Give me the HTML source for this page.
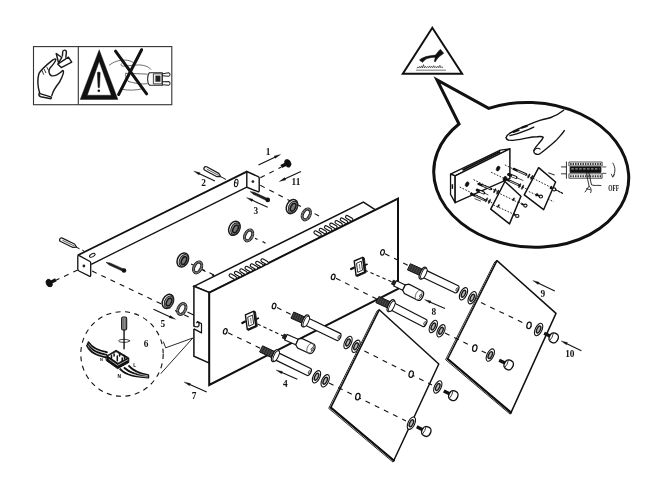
<!DOCTYPE html>
<html><head><meta charset="utf-8"><title>Assembly diagram</title>
<style>html,body{margin:0;padding:0;background:#fff}svg{display:block;filter:grayscale(1)}</style></head>
<body><svg width="662" height="488" viewBox="0 0 662 488">
<rect width="662" height="488" fill="#fff"/>
<rect x="33.5" y="46.6" width="138.3" height="58.1" fill="none" stroke="#333" stroke-width="1.1"/>
<line x1="78.3" y1="46.5" x2="78.3" y2="104.7" stroke="#333" stroke-width="1.1" stroke-linecap="butt"/>
<g transform="translate(30,40) scale(0.14337)" fill="none" stroke="#1a1a1a" stroke-width="10" stroke-linejoin="round" stroke-linecap="round">
<path d="M68 372 C55 330 52 270 62 235 C75 210 120 170 155 142 C165 134 178 130 180 136 C178 150 165 168 140 195 C128 215 128 235 150 250 C175 252 205 235 228 212 C240 215 232 245 205 295 C185 320 160 355 152 388"/>
<path d="M64 372 L150 398 L146 410 L75 396 C62 392 60 382 64 372 Z" fill="#fff"/>
<path d="M183 94 L199 160 L222 122 Z" fill="#fff"/>
<path d="M226 112 L228 84 C229 66 254 66 254 86 L250 120" fill="#fff"/>
<path d="M193 168 L268 120 L291 154 L218 192 Z" fill="#fff"/>
<path d="M85 215 L95 240 M100 205 L110 228 M118 190 L128 210" stroke-width="6"/>
</g>
<path d="M99.2 49.7 L117.9 99.5 L80.2 99.5 Z M99.2 61.5 L111.2 95.2 L87.3 95.2 Z" fill="#111" fill-rule="evenodd" stroke="#111" stroke-width="0.4"/>
<path d="M97.4 72.6 Q98.8 71.2 100.2 72.6 L99.5 87.6 L98.1 87.6 Z" fill="#111" stroke="#111" stroke-width="0.5"/>
<circle cx="98.8" cy="90.8" r="1.3" fill="#111"/>
<g transform="translate(100,40) scale(0.14337)" fill="none" stroke="#555" stroke-width="6" stroke-linejoin="round" stroke-linecap="round">
<path d="M65 175 C100 150 130 140 175 140 C200 140 225 150 235 160"/>
<path d="M150 165 C140 175 150 185 170 182 L250 175 C300 170 340 185 355 205"/>
<path d="M178 232 L330 238 M200 290 C240 300 280 312 330 305"/>
<path d="M160 345 C200 352 250 352 295 340"/>
<path d="M180 235 C170 250 185 275 200 290"/>
<path d="M345 228 L435 228 L435 315 L345 315 C328 300 328 245 345 228 Z" stroke="#222" stroke-width="7" fill="#fff"/>
<rect x="375" y="236" width="57" height="70" stroke="#222" stroke-width="6" fill="#fff"/>
<rect x="388" y="250" width="32" height="40" fill="#222" stroke="#222" stroke-width="3"/>
<path d="M437 236 L478 229 C492 230 492 252 478 253 L437 250 M437 291 L478 290 C492 292 492 314 478 315 L437 312" stroke="#222" stroke-width="7"/>
</g>
<line x1="115.5" y1="51.2" x2="146.6" y2="93.8" stroke="#111" stroke-width="3.0" stroke-linecap="round"/>
<line x1="141.6" y1="49.7" x2="118.6" y2="94.5" stroke="#111" stroke-width="3.0" stroke-linecap="round"/>
<polygon points="432.3,27.8 462.1,73.7 402.8,73.7" fill="none" stroke="#111" stroke-width="2.0" stroke-linejoin="miter"/>
<g transform="translate(410,40) scale(0.07375)">
<path d="M130 268 L160 248 L215 225 L290 210 L345 205 L380 160 L412 125 L458 180 L400 225 L365 260 L345 295 L328 290 L340 245 L330 235 L280 240 L225 255 L185 285 L170 305 L155 290 L140 285 Z" fill="#111" stroke="#111" stroke-width="6" stroke-linejoin="round"/>
<path d="M95 385 l12 -20 l12 14 l12 -22 l12 22 l14 -28 l12 28 l14 -45 l12 45 l14 -22 l14 20 l14 -18 l14 18 l14 -26 l14 26 l14 -22 l14 22 l14 -30 l14 30 l14 -18 l14 18 l14 -22 l14 22 l14 -34 l14 34 l14 -16 l12 18" fill="none" stroke="#222" stroke-width="9" stroke-linejoin="round"/>
<path d="M85 409 L490 409" stroke="#111" stroke-width="10" stroke-dasharray="22 5"/>
</g>
<path d="M459 124 L437 80 L488.7 108.4 A97.6 72.3 3.93 1 1 459 124 Z" fill="#fff" stroke="#111" stroke-width="3.0" stroke-linejoin="miter"/>
<g transform="translate(495,100) scale(0.13594)" fill="none" stroke="#111" stroke-width="10" stroke-linejoin="round" stroke-linecap="round">
<path d="M82 276 C85 258 110 242 130 232 C150 222 170 210 190 205 C200 195 225 190 240 185 C270 172 300 160 330 150 C370 140 400 132 420 125 C445 115 480 95 505 75"/>
<path d="M110 262 C140 255 175 245 200 235 C230 225 262 212 285 200"/>
<path d="M82 278 C84 290 95 296 115 297 C150 297 200 286 230 280 C260 274 290 270 310 270 C330 268 348 268 355 274 C350 290 335 305 318 325 C300 345 288 358 285 375 C285 395 305 405 325 398 C340 390 370 365 400 340 C430 315 450 298 465 280 C485 258 498 245 510 225"/>
<path d="M288 372 C292 355 318 350 332 362" stroke-width="8"/>
<path d="M135 236 L175 222 M195 205 L235 192" stroke-width="14"/>
</g>
<g transform="translate(445,140) scale(0.18433)" fill="none" stroke="#111" stroke-width="7" stroke-linejoin="round">
<path d="M30 185 L300 55 L352 48 L55 195 Z" fill="#fff"/>
<path d="M30 185 L55 195 L55 340 L30 295 Z" fill="#fff"/>
<path d="M55 195 L352 48 L352 208 L55 340 Z" fill="#fff" stroke-width="8"/>
<path d="M95 163 L300 63" stroke-width="11"/>
<path d="M40 240 L40 265" stroke-width="8"/>
<g stroke-width="5" stroke-dasharray="9 8">
<path d="M325 135 L640 290 M250 175 L590 335 M155 215 L440 355 M80 255 L400 412"/>
</g>
<g stroke-width="13" stroke-linecap="round">
<path d="M372 157 L440 187 M330 212 L400 244 M182 238 L250 266 M142 292 L212 324"/>
</g>
<g stroke-width="4" stroke-linecap="round" stroke="#fff">
<path d="M395 168 L436 186 M352 223 L396 243 M205 248 L246 265 M165 303 L208 323"/>
</g>
<g stroke-width="16" stroke-linecap="round">
<path d="M345 187 L385 203 M175 272 L210 287"/>
</g>
<g stroke-width="7" stroke-linecap="round" stroke="#fff">
<path d="M365 196 L383 203 M192 280 L208 287"/>
</g>
<path d="M385 203 L425 220 M210 287 L235 298 M160 318 L195 332" stroke-width="4"/>
<ellipse cx="288" cy="155" rx="9" ry="14" fill="#111" stroke-width="3" transform="rotate(26 288 155)"/>
<ellipse cx="120" cy="240" rx="9" ry="14" fill="#111" stroke-width="3" transform="rotate(26 120 240)"/>
<ellipse cx="325" cy="210" rx="9" ry="14" fill="#111" stroke-width="3" transform="rotate(26 325 210)"/>
<ellipse cx="455" cy="195" rx="4" ry="13" fill="#111" stroke-width="2" transform="rotate(26 455 195)"/>
<ellipse cx="471" cy="203" rx="4" ry="13" fill="#111" stroke-width="2" transform="rotate(26 471 203)"/>
<ellipse cx="405" cy="248" rx="4" ry="13" fill="#111" stroke-width="2" transform="rotate(26 405 248)"/>
<ellipse cx="421" cy="256" rx="4" ry="13" fill="#111" stroke-width="2" transform="rotate(26 421 256)"/>
<ellipse cx="270" cy="275" rx="4" ry="13" fill="#111" stroke-width="2" transform="rotate(26 270 275)"/>
<ellipse cx="286" cy="283" rx="4" ry="13" fill="#111" stroke-width="2" transform="rotate(26 286 283)"/>
<ellipse cx="225" cy="325" rx="4" ry="13" fill="#111" stroke-width="2" transform="rotate(26 225 325)"/>
<ellipse cx="241" cy="333" rx="4" ry="13" fill="#111" stroke-width="2" transform="rotate(26 241 333)"/>
<path d="M325 225 L412 305 L350 455 L248 375 Z" fill="#fff" stroke-width="8"/>
<path d="M508 150 L600 228 L535 378 L430 298 Z" fill="#fff" stroke-width="8"/>
<g stroke-width="5" stroke-dasharray="9 8">
<path d="M300 292 L410 345 M262 352 L385 408 M478 208 L640 290 M455 280 L520 308"/>
</g>
<ellipse cx="436" cy="356" rx="9" ry="8" fill="#fff" stroke-width="6"/>
<path d="M414 346 L427 352" stroke-width="10"/>
<ellipse cx="392" cy="412" rx="9" ry="8" fill="#fff" stroke-width="6"/>
<path d="M370 402 L383 408" stroke-width="10"/>
<ellipse cx="520" cy="307" rx="9" ry="8" fill="#fff" stroke-width="6"/>
<path d="M498 297 L511 303" stroke-width="10"/>
<ellipse cx="592" cy="268" rx="9" ry="8" fill="#fff" stroke-width="6"/>
<path d="M570 258 L583 264" stroke-width="10"/>
<ellipse cx="372" cy="322" rx="4" ry="9" fill="#111" stroke-width="2" transform="rotate(26 372 322)"/>
<ellipse cx="290" cy="358" rx="4" ry="9" fill="#111" stroke-width="2" transform="rotate(26 290 358)"/>
<ellipse cx="497" cy="297" rx="4" ry="9" fill="#111" stroke-width="2" transform="rotate(26 497 297)"/>
<ellipse cx="575" cy="258" rx="4" ry="9" fill="#111" stroke-width="2" transform="rotate(26 575 258)"/>
<path d="M560 178 L595 190 M600 270 L640 290" stroke-width="5"/>
</g>
<g transform="translate(500,100) scale(0.24606)" fill="none" stroke="#111" stroke-width="4" stroke-linejoin="round">
<path d="M270 250 L270 320 M248 272 L270 272 M248 300 L270 300" stroke-width="3.5"/>
<rect x="280" y="252" width="135" height="16" fill="#fff" stroke-width="3"/>
<path d="M285 260 L412 260" stroke-width="8" stroke-dasharray="6 4" stroke="#333"/>
<rect x="285" y="272" width="125" height="22" fill="#111"/>
<path d="M290 280 L405 280" stroke="#fff" stroke-width="3" stroke-dasharray="10 6"/>
<rect x="280" y="300" width="135" height="18" fill="#fff" stroke-width="3"/>
<path d="M285 310 L412 310" stroke-width="8" stroke-dasharray="6 4" stroke="#333"/>
<path d="M415 272 L432 272 M415 298 L432 298" stroke-width="3"/>
<path d="M458 255 C470 275 470 295 458 312" stroke-width="3.5"/>
<path d="M452 300 L458 314 L466 302" stroke-width="3"/>
<path d="M360 290 C365 310 368 330 372 345 C385 350 400 345 412 348" stroke-width="3.5" fill="none"/>
<path d="M352 292 C352 315 360 335 362 350 L345 375 M362 350 C372 358 372 368 368 378 M350 360 L368 365" stroke-width="3.5"/>
</g>
<text x="608.2" y="190.8" font-family="'Liberation Serif', serif" font-size="7.6" font-weight="bold" textLength="10.9" lengthAdjust="spacingAndGlyphs" fill="#111">OFF</text>
<line x1="260.3" y1="177.8" x2="281" y2="167.2" stroke="#111" stroke-width="1.1" stroke-dasharray="5 5.2" stroke-linecap="butt"/>
<line x1="260.3" y1="185.3" x2="322" y2="217.5" stroke="#111" stroke-width="1.1" stroke-dasharray="5 5.2" stroke-linecap="butt"/>
<line x1="77.8" y1="269.9" x2="56" y2="280.2" stroke="#111" stroke-width="1.1" stroke-dasharray="5 5.2" stroke-linecap="butt"/>
<line x1="92.1" y1="271" x2="196" y2="320.5" stroke="#111" stroke-width="1.1" stroke-dasharray="5 5.2" stroke-linecap="butt"/>
<line x1="181.9" y1="259.5" x2="216" y2="276" stroke="#111" stroke-width="1.1" stroke-dasharray="5 5.2" stroke-linecap="butt"/>
<line x1="76" y1="247" x2="84" y2="251" stroke="#111" stroke-width="1.0" stroke-dasharray="4 3" stroke-linecap="butt"/>
<line x1="221" y1="176.8" x2="226" y2="179.5" stroke="#111" stroke-width="1.0" stroke-linecap="butt"/>
<line x1="77.8" y1="255.2" x2="246.8" y2="171.6" stroke="#111" stroke-width="1.8" stroke-linecap="butt"/>
<line x1="91.2" y1="264.3" x2="246.8" y2="187.2" stroke="#111" stroke-width="1.3" stroke-linecap="butt"/>
<path d="M246.8 171.5 L258.2 176.6 Q259.2 177 259.2 178.2 L259.2 190.6 Q259.2 192.2 257.8 191.6 L246.8 187.2 Z" fill="#fff" stroke="#111" stroke-width="1.4" />
<circle cx="252.9" cy="181.6" r="1.4" fill="#222"/>
<path d="M77.8 256.5 Q77.8 254.8 79.2 255.6 L89.6 261.2 Q90.7 261.8 90.7 263 L90.7 275.2 Q90.7 276.8 89.3 276.2 L79 271 Q77.8 270.5 77.8 269 Z" fill="#fff" stroke="#111" stroke-width="1.3" />
<circle cx="83.9" cy="266" r="1.4" fill="#222"/>
<ellipse cx="92.3" cy="255.3" rx="3" ry="1.5" transform="rotate(-27 92.3 255.3)" fill="#fff" stroke="#111" stroke-width="1.0"/>
<ellipse cx="236.2" cy="183" rx="1.7" ry="3.8" transform="rotate(8 236.2 183)" fill="#fff" stroke="#111" stroke-width="1.1"/>
<line x1="234.8" y1="182.6" x2="237.6" y2="183.2" stroke="#111" stroke-width="0.9" stroke-linecap="butt"/>
<path d="M60.67 241.51 L72.87 247.44 L76.58 247.12 L74.53 244.02 L62.33 238.09 A1.9 1.9 0 0 0 60.67 241.51 Z" fill="#fff" stroke="#1a1a1a" stroke-width="1.2" stroke-linejoin="round"/>
<line x1="62.4" y1="240.24" x2="74.6" y2="246.16" stroke="#333" stroke-width="0.8" stroke-linecap="butt"/>
<path d="M204.89 170.17 L216.94 176.71 L220.65 176.57 L218.75 173.38 L206.71 166.83 A1.9 1.9 0 0 0 204.89 170.17 Z" fill="#fff" stroke="#1a1a1a" stroke-width="1.2" stroke-linejoin="round"/>
<line x1="206.68" y1="168.98" x2="218.72" y2="175.52" stroke="#333" stroke-width="0.8" stroke-linecap="butt"/>
<path d="M250.2 191.6 L253.35 194.3 L267.29 200.99 L268.31 198.81 L254.29 192.31 Z" fill="#222" stroke="#111" stroke-width="0.5" />
<circle cx="267.8" cy="199.9" r="2.3" fill="#111"/>
<path d="M106 262.3 L109.18 264.96 L123.5 271.59 L124.5 269.41 L110.1 262.96 Z" fill="#222" stroke="#111" stroke-width="0.5" />
<circle cx="124" cy="270.5" r="2.3" fill="#111"/>
<line x1="287.15" y1="163.62" x2="281.13" y2="166.56" stroke="#111" stroke-width="3.4" stroke-linecap="butt"/>
<ellipse cx="287.6" cy="163.4" rx="2.5" ry="4.1" transform="rotate(-26 287.6 163.4)" fill="#111" stroke="#111" stroke-width="0.6"/>
<ellipse cx="288.5" cy="162.96" rx="2.2" ry="3.4" transform="rotate(-26 288.5 162.96)" fill="#111" stroke="#111" stroke-width="0.6"/>
<line x1="49.85" y1="282.78" x2="55.87" y2="279.84" stroke="#111" stroke-width="3.4" stroke-linecap="butt"/>
<ellipse cx="49.4" cy="283" rx="2.5" ry="4.1" transform="rotate(-26 49.4 283)" fill="#111" stroke="#111" stroke-width="0.6"/>
<ellipse cx="48.5" cy="283.44" rx="2.2" ry="3.4" transform="rotate(-26 48.5 283.44)" fill="#111" stroke="#111" stroke-width="0.6"/>
<ellipse cx="292" cy="206.6" rx="5.3" ry="7.4" transform="rotate(26 292 206.6)" fill="#fff" stroke="#1a1a1a" stroke-width="1.5"/>
<ellipse cx="292.9" cy="207.05" rx="4.1" ry="6.2" transform="rotate(26 292.9 207.05)" fill="#a8a8a8" stroke="#222" stroke-width="1.0"/>
<ellipse cx="293.1" cy="207.2" rx="2.3" ry="4.2" transform="rotate(26 293.1 207.2)" fill="#777" stroke="#151515" stroke-width="1.5"/>
<ellipse cx="306.3" cy="214.4" rx="4.6" ry="6.8" transform="rotate(26 306.3 214.4)" fill="#6a6a6a" stroke="#222" stroke-width="1.1"/>
<ellipse cx="306.3" cy="214.4" rx="4" ry="6.1" transform="rotate(26 306.3 214.4)" fill="none" stroke="#999" stroke-width="0.8" stroke-dasharray="1.6 1.4"/>
<ellipse cx="306.3" cy="214.4" rx="2.5" ry="4.6" transform="rotate(26 306.3 214.4)" fill="#fff" stroke="#222" stroke-width="0.9"/>
<ellipse cx="234.4" cy="228.3" rx="5.3" ry="7.4" transform="rotate(26 234.4 228.3)" fill="#fff" stroke="#1a1a1a" stroke-width="1.5"/>
<ellipse cx="235.3" cy="228.75" rx="4.1" ry="6.2" transform="rotate(26 235.3 228.75)" fill="#a8a8a8" stroke="#222" stroke-width="1.0"/>
<ellipse cx="235.5" cy="228.9" rx="2.3" ry="4.2" transform="rotate(26 235.5 228.9)" fill="#777" stroke="#151515" stroke-width="1.5"/>
<ellipse cx="248.6" cy="235.4" rx="4.6" ry="6.8" transform="rotate(26 248.6 235.4)" fill="#6a6a6a" stroke="#222" stroke-width="1.1"/>
<ellipse cx="248.6" cy="235.4" rx="4" ry="6.1" transform="rotate(26 248.6 235.4)" fill="none" stroke="#999" stroke-width="0.8" stroke-dasharray="1.6 1.4"/>
<ellipse cx="248.6" cy="235.4" rx="2.5" ry="4.6" transform="rotate(26 248.6 235.4)" fill="#fff" stroke="#222" stroke-width="0.9"/>
<ellipse cx="182.8" cy="260" rx="5.3" ry="7.4" transform="rotate(26 182.8 260)" fill="#fff" stroke="#1a1a1a" stroke-width="1.5"/>
<ellipse cx="183.7" cy="260.45" rx="4.1" ry="6.2" transform="rotate(26 183.7 260.45)" fill="#a8a8a8" stroke="#222" stroke-width="1.0"/>
<ellipse cx="183.9" cy="260.6" rx="2.3" ry="4.2" transform="rotate(26 183.9 260.6)" fill="#777" stroke="#151515" stroke-width="1.5"/>
<ellipse cx="197.6" cy="267.4" rx="4.6" ry="6.8" transform="rotate(26 197.6 267.4)" fill="#6a6a6a" stroke="#222" stroke-width="1.1"/>
<ellipse cx="197.6" cy="267.4" rx="4" ry="6.1" transform="rotate(26 197.6 267.4)" fill="none" stroke="#999" stroke-width="0.8" stroke-dasharray="1.6 1.4"/>
<ellipse cx="197.6" cy="267.4" rx="2.5" ry="4.6" transform="rotate(26 197.6 267.4)" fill="#fff" stroke="#222" stroke-width="0.9"/>
<ellipse cx="167.9" cy="301.4" rx="5.3" ry="7.4" transform="rotate(26 167.9 301.4)" fill="#fff" stroke="#1a1a1a" stroke-width="1.5"/>
<ellipse cx="168.8" cy="301.85" rx="4.1" ry="6.2" transform="rotate(26 168.8 301.85)" fill="#a8a8a8" stroke="#222" stroke-width="1.0"/>
<ellipse cx="169" cy="302" rx="2.3" ry="4.2" transform="rotate(26 169 302)" fill="#777" stroke="#151515" stroke-width="1.5"/>
<ellipse cx="181.8" cy="309" rx="4.6" ry="6.8" transform="rotate(26 181.8 309)" fill="#6a6a6a" stroke="#222" stroke-width="1.1"/>
<ellipse cx="181.8" cy="309" rx="4" ry="6.1" transform="rotate(26 181.8 309)" fill="none" stroke="#999" stroke-width="0.8" stroke-dasharray="1.6 1.4"/>
<ellipse cx="181.8" cy="309" rx="2.5" ry="4.6" transform="rotate(26 181.8 309)" fill="#fff" stroke="#222" stroke-width="0.9"/>
<line x1="187.4" y1="312" x2="193.6" y2="314.9" stroke="#111" stroke-width="1.1" stroke-linecap="butt"/>
<line x1="255" y1="238.3" x2="257.5" y2="239.5" stroke="#111" stroke-width="1.1" stroke-linecap="butt"/>
<line x1="262.5" y1="241.5" x2="265.5" y2="243.3" stroke="#111" stroke-width="1.1" stroke-linecap="butt"/>
<line x1="202.5" y1="270" x2="205.5" y2="271.5" stroke="#111" stroke-width="1.1" stroke-linecap="butt"/>
<line x1="212" y1="275" x2="214.5" y2="276.2" stroke="#111" stroke-width="1.1" stroke-linecap="butt"/>
<polygon points="193.9,286.3 363.4,202.1 375.5,209.9 209.4,292.6" fill="#fff" stroke="#111" stroke-width="1.5" stroke-linejoin="miter"/>
<polygon points="193.9,286.3 209.4,292.6 209.4,363.2 193.9,356.2" fill="#fff" stroke="#111" stroke-width="1.5" stroke-linejoin="miter"/>
<polygon points="209.2,292.6 398,198.5 398,289 209.2,385" fill="#fff" stroke="#111" stroke-width="2.0" stroke-linejoin="miter"/>
<rect x="192.8" y="326.6" width="2.2" height="2.2" fill="#fff"/>
<path d="M193.9 326.4 L197.6 327 L199 325.6 L199 323.4 L197.6 321.5 L196.4 323.2 M197.6 321.5 L201.5 323.7 L201.5 332.9 L193.9 328.9" fill="none" stroke="#111" stroke-width="1.2" stroke-linejoin="round"/>
<rect x="313.6" y="232.1" width="8" height="3" rx="1.5" transform="rotate(30 317.6 233.6)" fill="#fff" stroke="#111" stroke-width="1.1"/>
<rect x="318.87" y="229.53" width="8" height="3" rx="1.5" transform="rotate(30 322.87 231.03)" fill="#fff" stroke="#111" stroke-width="1.1"/>
<rect x="324.13" y="226.97" width="8" height="3" rx="1.5" transform="rotate(30 328.13 228.47)" fill="#fff" stroke="#111" stroke-width="1.1"/>
<rect x="329.4" y="224.4" width="8" height="3" rx="1.5" transform="rotate(30 333.4 225.9)" fill="#fff" stroke="#111" stroke-width="1.1"/>
<rect x="334.67" y="221.83" width="8" height="3" rx="1.5" transform="rotate(30 338.67 223.33)" fill="#fff" stroke="#111" stroke-width="1.1"/>
<rect x="339.93" y="219.27" width="8" height="3" rx="1.5" transform="rotate(30 343.93 220.77)" fill="#fff" stroke="#111" stroke-width="1.1"/>
<rect x="345.2" y="216.7" width="8" height="3" rx="1.5" transform="rotate(30 349.2 218.2)" fill="#fff" stroke="#111" stroke-width="1.1"/>
<rect x="228.8" y="275.1" width="8" height="3" rx="1.5" transform="rotate(30 232.8 276.6)" fill="#fff" stroke="#111" stroke-width="1.1"/>
<rect x="234.1" y="272.6" width="8" height="3" rx="1.5" transform="rotate(30 238.1 274.1)" fill="#fff" stroke="#111" stroke-width="1.1"/>
<rect x="239.4" y="270.1" width="8" height="3" rx="1.5" transform="rotate(30 243.4 271.6)" fill="#fff" stroke="#111" stroke-width="1.1"/>
<rect x="244.7" y="267.6" width="8" height="3" rx="1.5" transform="rotate(30 248.7 269.1)" fill="#fff" stroke="#111" stroke-width="1.1"/>
<rect x="250" y="265.1" width="8" height="3" rx="1.5" transform="rotate(30 254 266.6)" fill="#fff" stroke="#111" stroke-width="1.1"/>
<rect x="255.3" y="262.6" width="8" height="3" rx="1.5" transform="rotate(30 259.3 264.1)" fill="#fff" stroke="#111" stroke-width="1.1"/>
<rect x="260.6" y="260.1" width="8" height="3" rx="1.5" transform="rotate(30 264.6 261.6)" fill="#fff" stroke="#111" stroke-width="1.1"/>
<ellipse cx="382.5" cy="252.4" rx="1.8" ry="2.8" transform="rotate(14 382.5 252.4)" fill="#fff" stroke="#111" stroke-width="1.25"/>
<ellipse cx="333.2" cy="276.8" rx="1.8" ry="2.8" transform="rotate(14 333.2 276.8)" fill="#fff" stroke="#111" stroke-width="1.25"/>
<ellipse cx="274.1" cy="306" rx="1.8" ry="2.8" transform="rotate(14 274.1 306)" fill="#fff" stroke="#111" stroke-width="1.25"/>
<ellipse cx="225.3" cy="331.3" rx="1.8" ry="2.8" transform="rotate(14 225.3 331.3)" fill="#fff" stroke="#111" stroke-width="1.25"/>
<g transform="translate(358.5,266.5)">
<path d="M-4.3 -5.5 L4.2 -9.2 L6.1 5.6 L-2.4 9.2 Z" fill="#fff" stroke="#111" stroke-width="1.4" stroke-linejoin="round"/>
<path d="M4.2 -9.2 L5.8 -8.6 L7.6 6 L-1.2 10 L-2.4 9.2 L6.1 5.6 Z" fill="#222" stroke="#111" stroke-width="0.9" stroke-linejoin="round"/>
<path d="M7 -1.5 L8.6 -2.2" stroke="#111" stroke-width="1.6" stroke-linecap="round"/>
<path d="M-2 -3.2 L2.8 -5.3 L4 3.6 L-0.8 5.8 Z" fill="#fff" stroke="#111" stroke-width="0.9"/>
<path d="M0.8 -2.5 L1.6 3" stroke="#333" stroke-width="0.7"/>
<path d="M-7.4 2.6 L-4.6 1.2" stroke="#111" stroke-width="2.2" stroke-linecap="round"/>
</g>
<g transform="translate(249.7,320.4)">
<path d="M-4.3 -5.5 L4.2 -9.2 L6.1 5.6 L-2.4 9.2 Z" fill="#fff" stroke="#111" stroke-width="1.4" stroke-linejoin="round"/>
<path d="M4.2 -9.2 L5.8 -8.6 L7.6 6 L-1.2 10 L-2.4 9.2 L6.1 5.6 Z" fill="#222" stroke="#111" stroke-width="0.9" stroke-linejoin="round"/>
<path d="M7 -1.5 L8.6 -2.2" stroke="#111" stroke-width="1.6" stroke-linecap="round"/>
<path d="M-2 -3.2 L2.8 -5.3 L4 3.6 L-0.8 5.8 Z" fill="#fff" stroke="#111" stroke-width="0.9"/>
<path d="M0.8 -2.5 L1.6 3" stroke="#333" stroke-width="0.7"/>
<path d="M-7.4 2.6 L-4.6 1.2" stroke="#111" stroke-width="2.2" stroke-linecap="round"/>
</g>
<line x1="385" y1="253.8" x2="408" y2="265.3" stroke="#111" stroke-width="1.1" stroke-dasharray="5 5.2" stroke-linecap="butt"/>
<line x1="336" y1="278.2" x2="377" y2="299.2" stroke="#111" stroke-width="1.1" stroke-dasharray="5 5.2" stroke-linecap="butt"/>
<line x1="277" y1="307.5" x2="292" y2="315" stroke="#111" stroke-width="1.1" stroke-dasharray="5 5.2" stroke-linecap="butt"/>
<line x1="228" y1="332.8" x2="261" y2="348.6" stroke="#111" stroke-width="1.1" stroke-dasharray="5 5.2" stroke-linecap="butt"/>
<line x1="364.5" y1="270" x2="392.4" y2="282.1" stroke="#111" stroke-width="1.1" stroke-dasharray="3.5 3" stroke-linecap="butt"/>
<line x1="257.5" y1="324" x2="283.2" y2="336" stroke="#111" stroke-width="1.1" stroke-dasharray="3.5 3" stroke-linecap="butt"/>
<polygon points="290.95,318.17 303.55,323.87 306.45,317.73 293.85,312.03" fill="#444" stroke="#111" stroke-width="1.0" stroke-linejoin="round"/>
<line x1="293.05" y1="319.12" x2="295.95" y2="312.98" stroke="#111" stroke-width="0.6" stroke-linecap="butt"/>
<line x1="295.15" y1="320.07" x2="298.05" y2="313.93" stroke="#111" stroke-width="0.6" stroke-linecap="butt"/>
<line x1="297.25" y1="321.02" x2="300.15" y2="314.88" stroke="#111" stroke-width="0.6" stroke-linecap="butt"/>
<line x1="299.35" y1="321.97" x2="302.25" y2="315.83" stroke="#111" stroke-width="0.6" stroke-linecap="butt"/>
<line x1="301.45" y1="322.92" x2="304.35" y2="316.78" stroke="#111" stroke-width="0.6" stroke-linecap="butt"/>
<path d="M305.33 325.27 L336.94 340.43 A1.95 3.9 25.26 0 0 340.26 333.37 L308.65 318.21 Z" fill="#fff" stroke="#111" stroke-width="1.2" />
<ellipse cx="338.96" cy="337.07" rx="0.9" ry="1.8" transform="rotate(25.26 338.96 337.07)" fill="#ddd" stroke="#222" stroke-width="0.7"/>
<ellipse cx="305.27" cy="320.93" rx="2.6" ry="6.5" transform="rotate(25.26 305.27 320.93)" fill="#fff" stroke="#111" stroke-width="1.2"/>
<ellipse cx="306.27" cy="321.4" rx="2.2" ry="5.7" transform="rotate(25.26 306.27 321.4)" fill="#fff" stroke="#111" stroke-width="0.9"/>
<polygon points="259.62,351.96 273.42,358.46 276.38,352.34 262.58,345.84" fill="#444" stroke="#111" stroke-width="1.0" stroke-linejoin="round"/>
<line x1="261.92" y1="353.05" x2="264.88" y2="346.92" stroke="#111" stroke-width="0.6" stroke-linecap="butt"/>
<line x1="264.22" y1="354.13" x2="267.18" y2="348" stroke="#111" stroke-width="0.6" stroke-linecap="butt"/>
<line x1="266.52" y1="355.21" x2="269.48" y2="349.09" stroke="#111" stroke-width="0.6" stroke-linecap="butt"/>
<line x1="268.82" y1="356.3" x2="271.78" y2="350.17" stroke="#111" stroke-width="0.6" stroke-linecap="butt"/>
<line x1="271.12" y1="357.38" x2="274.08" y2="351.25" stroke="#111" stroke-width="0.6" stroke-linecap="butt"/>
<path d="M275.19 359.87 L307.31 375.51 A1.95 3.9 25.75 0 0 310.69 368.49 L278.58 352.84 Z" fill="#fff" stroke="#111" stroke-width="1.2" />
<ellipse cx="309.36" cy="372.17" rx="0.9" ry="1.8" transform="rotate(25.75 309.36 372.17)" fill="#ddd" stroke="#222" stroke-width="0.7"/>
<ellipse cx="275.17" cy="355.53" rx="2.6" ry="6.5" transform="rotate(25.75 275.17 355.53)" fill="#fff" stroke="#111" stroke-width="1.2"/>
<ellipse cx="276.16" cy="356.01" rx="2.2" ry="5.7" transform="rotate(25.75 276.16 356.01)" fill="#fff" stroke="#111" stroke-width="0.9"/>
<polygon points="407.45,269.88 421.15,276.08 424.05,269.92 410.35,263.72" fill="#444" stroke="#111" stroke-width="1.0" stroke-linejoin="round"/>
<line x1="409.73" y1="270.91" x2="412.63" y2="264.76" stroke="#111" stroke-width="0.6" stroke-linecap="butt"/>
<line x1="412.02" y1="271.94" x2="414.92" y2="265.79" stroke="#111" stroke-width="0.6" stroke-linecap="butt"/>
<line x1="414.3" y1="272.98" x2="417.2" y2="266.82" stroke="#111" stroke-width="0.6" stroke-linecap="butt"/>
<line x1="416.58" y1="274.01" x2="419.48" y2="267.86" stroke="#111" stroke-width="0.6" stroke-linecap="butt"/>
<line x1="418.87" y1="275.04" x2="421.77" y2="268.89" stroke="#111" stroke-width="0.6" stroke-linecap="butt"/>
<path d="M422.93 277.47 L454.94 292.83 A1.95 3.9 25.25 0 0 458.26 285.77 L426.25 270.41 Z" fill="#fff" stroke="#111" stroke-width="1.2" />
<ellipse cx="456.96" cy="289.47" rx="0.9" ry="1.8" transform="rotate(25.25 456.96 289.47)" fill="#ddd" stroke="#222" stroke-width="0.7"/>
<ellipse cx="422.87" cy="273.13" rx="2.6" ry="6.5" transform="rotate(25.25 422.87 273.13)" fill="#fff" stroke="#111" stroke-width="1.2"/>
<ellipse cx="423.87" cy="273.6" rx="2.2" ry="5.7" transform="rotate(25.25 423.87 273.6)" fill="#fff" stroke="#111" stroke-width="0.9"/>
<polygon points="375.89,302.64 389.09,308.64 392.11,302.56 378.91,296.56" fill="#444" stroke="#111" stroke-width="1.0" stroke-linejoin="round"/>
<line x1="378.09" y1="303.64" x2="381.11" y2="297.56" stroke="#111" stroke-width="0.6" stroke-linecap="butt"/>
<line x1="380.29" y1="304.64" x2="383.31" y2="298.56" stroke="#111" stroke-width="0.6" stroke-linecap="butt"/>
<line x1="382.49" y1="305.64" x2="385.51" y2="299.56" stroke="#111" stroke-width="0.6" stroke-linecap="butt"/>
<line x1="384.69" y1="306.64" x2="387.71" y2="300.56" stroke="#111" stroke-width="0.6" stroke-linecap="butt"/>
<line x1="386.89" y1="307.64" x2="389.91" y2="301.56" stroke="#111" stroke-width="0.6" stroke-linecap="butt"/>
<path d="M390.84 310.07 L422.76 326.49 A1.95 3.9 26.42 0 0 426.24 319.51 L394.31 303.09 Z" fill="#fff" stroke="#111" stroke-width="1.2" />
<ellipse cx="424.86" cy="323.18" rx="0.9" ry="1.8" transform="rotate(26.42 424.86 323.18)" fill="#ddd" stroke="#222" stroke-width="0.7"/>
<ellipse cx="390.87" cy="305.73" rx="2.6" ry="6.5" transform="rotate(26.42 390.87 305.73)" fill="#fff" stroke="#111" stroke-width="1.2"/>
<ellipse cx="391.85" cy="306.22" rx="2.2" ry="5.7" transform="rotate(26.42 391.85 306.22)" fill="#fff" stroke="#111" stroke-width="0.9"/>
<polygon points="282.29,338 285.03,339.24 286.84,335.23 284.11,334" fill="#222" stroke="#111" stroke-width="0.8" stroke-linejoin="miter"/>
<polygon points="284.7,339.97 295.76,344.73 298.24,339.27 287.17,334.5" fill="#fff" stroke="#111" stroke-width="1.1" stroke-linejoin="miter"/>
<path d="M295.76 344.73 L297.59 347.97 L309.36 353.54 A3.12 5.2 24.34 0 0 313.64 344.06 L301.88 338.5 L298.24 339.27 Z" fill="#fff" stroke="#111" stroke-width="1.2" />
<ellipse cx="310.13" cy="348.18" rx="2.86" ry="5.2" transform="rotate(24.34 310.13 348.18)" fill="none" stroke="#555" stroke-width="0.8"/>
<ellipse cx="312.23" cy="349.13" rx="1" ry="1.6" transform="rotate(24.34 312.23 349.13)" fill="#bbb" stroke="#222" stroke-width="0.7"/>
<polygon points="391.43,284.08 394.13,285.39 396.06,281.44 393.37,280.12" fill="#222" stroke="#111" stroke-width="0.8" stroke-linejoin="miter"/>
<polygon points="393.78,286.11 402.68,290.29 405.32,284.91 396.41,280.72" fill="#fff" stroke="#111" stroke-width="1.1" stroke-linejoin="miter"/>
<path d="M402.68 290.29 L404.41 293.59 L417.72 300.27 A3.12 5.2 26.06 0 0 422.28 290.93 L408.98 284.25 L405.32 284.91 Z" fill="#fff" stroke="#111" stroke-width="1.2" />
<ellipse cx="418.65" cy="294.94" rx="2.86" ry="5.2" transform="rotate(26.06 418.65 294.94)" fill="none" stroke="#555" stroke-width="0.8"/>
<ellipse cx="420.72" cy="295.95" rx="1" ry="1.6" transform="rotate(26.06 420.72 295.95)" fill="#bbb" stroke="#222" stroke-width="0.7"/>
<ellipse cx="348" cy="342.5" rx="3.3" ry="6.7" transform="rotate(26 348 342.5)" fill="#fff" stroke="#111" stroke-width="1.1"/>
<ellipse cx="348" cy="342.5" rx="1.7" ry="3.7" transform="rotate(26 348 342.5)" fill="#bbb" stroke="#1a1a1a" stroke-width="1.4"/>
<ellipse cx="356" cy="346.3" rx="3.3" ry="6.7" transform="rotate(26 356 346.3)" fill="#fff" stroke="#111" stroke-width="1.1"/>
<ellipse cx="356" cy="346.3" rx="1.7" ry="3.7" transform="rotate(26 356 346.3)" fill="#bbb" stroke="#1a1a1a" stroke-width="1.4"/>
<ellipse cx="316.5" cy="376.8" rx="3.3" ry="6.7" transform="rotate(26 316.5 376.8)" fill="#fff" stroke="#111" stroke-width="1.1"/>
<ellipse cx="316.5" cy="376.8" rx="1.7" ry="3.7" transform="rotate(26 316.5 376.8)" fill="#bbb" stroke="#1a1a1a" stroke-width="1.4"/>
<ellipse cx="325.2" cy="380.8" rx="3.3" ry="6.7" transform="rotate(26 325.2 380.8)" fill="#fff" stroke="#111" stroke-width="1.1"/>
<ellipse cx="325.2" cy="380.8" rx="1.7" ry="3.7" transform="rotate(26 325.2 380.8)" fill="#bbb" stroke="#1a1a1a" stroke-width="1.4"/>
<ellipse cx="463.5" cy="293.8" rx="3.3" ry="6.7" transform="rotate(26 463.5 293.8)" fill="#fff" stroke="#111" stroke-width="1.1"/>
<ellipse cx="463.5" cy="293.8" rx="1.7" ry="3.7" transform="rotate(26 463.5 293.8)" fill="#bbb" stroke="#1a1a1a" stroke-width="1.4"/>
<ellipse cx="472.2" cy="297.7" rx="3.3" ry="6.7" transform="rotate(26 472.2 297.7)" fill="#fff" stroke="#111" stroke-width="1.1"/>
<ellipse cx="472.2" cy="297.7" rx="1.7" ry="3.7" transform="rotate(26 472.2 297.7)" fill="#bbb" stroke="#1a1a1a" stroke-width="1.4"/>
<ellipse cx="433.3" cy="326.5" rx="3.3" ry="6.7" transform="rotate(26 433.3 326.5)" fill="#fff" stroke="#111" stroke-width="1.1"/>
<ellipse cx="433.3" cy="326.5" rx="1.7" ry="3.7" transform="rotate(26 433.3 326.5)" fill="#bbb" stroke="#1a1a1a" stroke-width="1.4"/>
<ellipse cx="441" cy="330.8" rx="3.3" ry="6.7" transform="rotate(26 441 330.8)" fill="#fff" stroke="#111" stroke-width="1.1"/>
<ellipse cx="441" cy="330.8" rx="1.7" ry="3.7" transform="rotate(26 441 330.8)" fill="#bbb" stroke="#1a1a1a" stroke-width="1.4"/>
<polygon points="377.1,310.9 328.7,408.4 393,462.1 393.8,460.5 330.8,407.7 379.2,309.8" fill="#fff" stroke="#111" stroke-width="0.9" stroke-linejoin="round"/>
<polygon points="379.2,309.8 438.8,364 393.8,460.5 330.8,407.7" fill="#fff" stroke="#111" stroke-width="1.5" stroke-linejoin="round"/>
<line x1="330.8" y1="407.7" x2="393.8" y2="460.5" stroke="#111" stroke-width="2.2" stroke-linecap="round"/>
<polygon points="494.9,261.7 445.6,359.7 510.2,414.2 511,412.6 447.7,359 497,260.6" fill="#fff" stroke="#111" stroke-width="0.9" stroke-linejoin="round"/>
<polygon points="497,260.6 556,313.4 511,412.6 447.7,359" fill="#fff" stroke="#111" stroke-width="1.5" stroke-linejoin="round"/>
<line x1="447.7" y1="359" x2="511" y2="412.6" stroke="#111" stroke-width="2.2" stroke-linecap="round"/>
<line x1="364.4" y1="351" x2="432" y2="385" stroke="#111" stroke-width="1.1" stroke-dasharray="5 5.2" stroke-linecap="butt"/>
<line x1="329" y1="383" x2="406" y2="421" stroke="#111" stroke-width="1.1" stroke-dasharray="5 5.2" stroke-linecap="butt"/>
<line x1="481" y1="302.6" x2="534" y2="328" stroke="#111" stroke-width="1.1" stroke-dasharray="5 5.2" stroke-linecap="butt"/>
<line x1="445" y1="333" x2="486" y2="353" stroke="#111" stroke-width="1.1" stroke-dasharray="5 5.2" stroke-linecap="butt"/>
<ellipse cx="411.2" cy="374.2" rx="2.1" ry="3.3" transform="rotate(14 411.2 374.2)" fill="#fff" stroke="#111" stroke-width="1.25"/>
<ellipse cx="357.8" cy="396.6" rx="2.1" ry="3.3" transform="rotate(14 357.8 396.6)" fill="#fff" stroke="#111" stroke-width="1.25"/>
<ellipse cx="529" cy="325.3" rx="2.1" ry="3.3" transform="rotate(14 529 325.3)" fill="#fff" stroke="#111" stroke-width="1.25"/>
<ellipse cx="474.8" cy="348.1" rx="2.1" ry="3.3" transform="rotate(14 474.8 348.1)" fill="#fff" stroke="#111" stroke-width="1.25"/>
<ellipse cx="437.8" cy="387" rx="3.3" ry="6.7" transform="rotate(26 437.8 387)" fill="#fff" stroke="#111" stroke-width="1.1"/>
<ellipse cx="437.8" cy="387" rx="1.7" ry="3.7" transform="rotate(26 437.8 387)" fill="#bbb" stroke="#1a1a1a" stroke-width="1.4"/>
<ellipse cx="411.4" cy="423.2" rx="3.3" ry="6.7" transform="rotate(26 411.4 423.2)" fill="#fff" stroke="#111" stroke-width="1.1"/>
<ellipse cx="411.4" cy="423.2" rx="1.7" ry="3.7" transform="rotate(26 411.4 423.2)" fill="#bbb" stroke="#1a1a1a" stroke-width="1.4"/>
<ellipse cx="538.6" cy="329.5" rx="3.3" ry="6.7" transform="rotate(26 538.6 329.5)" fill="#fff" stroke="#111" stroke-width="1.1"/>
<ellipse cx="538.6" cy="329.5" rx="1.7" ry="3.7" transform="rotate(26 538.6 329.5)" fill="#bbb" stroke="#1a1a1a" stroke-width="1.4"/>
<ellipse cx="490.3" cy="355.1" rx="3.3" ry="6.7" transform="rotate(26 490.3 355.1)" fill="#fff" stroke="#111" stroke-width="1.1"/>
<ellipse cx="490.3" cy="355.1" rx="1.7" ry="3.7" transform="rotate(26 490.3 355.1)" fill="#bbb" stroke="#1a1a1a" stroke-width="1.4"/>
<line x1="443.76" y1="391" x2="449.6" y2="393.85" stroke="#111" stroke-width="3.3" stroke-linecap="butt"/>
<g transform="rotate(26 453.2 395.6)">
<rect x="448.9" y="390.8" width="8.8" height="9.6" rx="3.6" ry="4.2" fill="#fff" stroke="#111" stroke-width="1.4"/>
<path d="M450.9 391.2 Q452.3 395.6 450.9 400" fill="none" stroke="#222" stroke-width="0.8"/>
</g>
<line x1="416.76" y1="426.8" x2="422.6" y2="429.65" stroke="#111" stroke-width="3.3" stroke-linecap="butt"/>
<g transform="rotate(26 426.2 431.4)">
<rect x="421.9" y="426.6" width="8.8" height="9.6" rx="3.6" ry="4.2" fill="#fff" stroke="#111" stroke-width="1.4"/>
<path d="M423.9 427 Q425.3 431.4 423.9 435.8" fill="none" stroke="#222" stroke-width="0.8"/>
</g>
<line x1="544.16" y1="333.2" x2="550" y2="336.05" stroke="#111" stroke-width="3.3" stroke-linecap="butt"/>
<g transform="rotate(26 553.6 337.8)">
<rect x="549.3" y="333" width="8.8" height="9.6" rx="3.6" ry="4.2" fill="#fff" stroke="#111" stroke-width="1.4"/>
<path d="M551.3 333.4 Q552.7 337.8 551.3 342.2" fill="none" stroke="#222" stroke-width="0.8"/>
</g>
<line x1="499.16" y1="360.2" x2="505" y2="363.05" stroke="#111" stroke-width="3.3" stroke-linecap="butt"/>
<g transform="rotate(26 508.6 364.8)">
<rect x="504.3" y="360" width="8.8" height="9.6" rx="3.6" ry="4.2" fill="#fff" stroke="#111" stroke-width="1.4"/>
<path d="M506.3 360.4 Q507.7 364.8 506.3 369.2" fill="none" stroke="#222" stroke-width="0.8"/>
</g>
<ellipse cx="122" cy="354" rx="41.2" ry="42.3" transform="rotate(0 122 354)" fill="none" stroke="#111" stroke-width="1.1" stroke-dasharray="5 4.5"/>
<path d="M163.3 341.6 L165.7 347.8 L192.8 338 L160.8 373.6" fill="none" stroke="#111" stroke-width="0.9" />
<g transform="translate(80,310) scale(0.15355)" stroke="#111" fill="none" stroke-linecap="round" stroke-linejoin="round">
<rect x="271" y="46" width="33" height="84" rx="9" fill="#aaa" stroke-width="7"/>
<path d="M281 55 L281 122 M294 55 L294 122" stroke="#222" stroke-width="4"/>
<path d="M287 130 L287 252" stroke-width="9"/>
<ellipse cx="287" cy="201" rx="36" ry="10" stroke-width="5"/>
<path d="M55 210 C80 250 120 262 175 275 M50 222 C75 265 115 280 172 292 M46 232 C68 280 110 295 168 308" stroke-width="13"/>
<path d="M58 222 C82 258 120 270 172 283 M52 232 C74 272 112 288 168 300" stroke="#fff" stroke-width="4"/>
<path d="M172 300 L235 262 L318 312 L318 342 L245 382 L172 330 Z" fill="#111" stroke-width="6"/>
<path d="M182 300 L235 272 L305 314 L248 345 Z" fill="#fff" stroke-width="4"/>
<path d="M205 296 L205 318 M222 286 L222 300 M243 300 L243 330 M258 280 L258 300 M275 312 L275 340 M290 296 L290 318" stroke-width="10"/>
<path d="M190 322 L245 360 L310 325" stroke="#fff" stroke-width="4"/>
<path d="M262 385 C300 425 360 435 445 440 M290 378 C330 415 380 425 445 432 M320 365 C350 400 400 415 445 424" stroke-width="13"/>
<path d="M276 385 C315 420 370 430 440 436 M305 375 C340 408 390 420 440 428" stroke="#fff" stroke-width="4"/>
</g>
<text x="119.2" y="377.8" font-family="'Liberation Sans', serif" font-size="5" font-weight="bold" text-anchor="middle" fill="#111">N</text>
<text x="134.8" y="367" font-family="'Liberation Sans', serif" font-size="5" font-weight="bold" text-anchor="middle" fill="#111">L</text>
<text x="101.5" y="360.6" font-family="'Liberation Sans', serif" font-size="4" font-weight="bold" text-anchor="middle" fill="#111">N</text>
<line x1="275.9" y1="156.63" x2="258.5" y2="164.9" stroke="#111" stroke-width="1.1" stroke-linecap="butt"/>
<polygon points="280.6,154.4 274.19,156.06 275.27,158.32" fill="#111" stroke="#111" stroke-width="0.3" stroke-linejoin="miter"/>
<text x="268" y="154.8" font-family="'Liberation Serif', serif" font-size="9.3" font-weight="bold" text-anchor="middle" fill="#111">1</text>
<line x1="198.4" y1="173.32" x2="214.9" y2="181.1" stroke="#111" stroke-width="1.1" stroke-linecap="butt"/>
<polygon points="193.7,171.1 199.05,175 200.11,172.74" fill="#111" stroke="#111" stroke-width="0.3" stroke-linejoin="miter"/>
<text x="203.7" y="185.8" font-family="'Liberation Serif', serif" font-size="9.3" font-weight="bold" text-anchor="middle" fill="#111">2</text>
<line x1="251.23" y1="199.76" x2="267.7" y2="207.3" stroke="#111" stroke-width="1.1" stroke-linecap="butt"/>
<polygon points="246.5,197.6 251.89,201.44 252.93,199.17" fill="#111" stroke="#111" stroke-width="0.3" stroke-linejoin="miter"/>
<text x="255.8" y="213.6" font-family="'Liberation Serif', serif" font-size="9.3" font-weight="bold" text-anchor="middle" fill="#111">3</text>
<line x1="280.77" y1="372.08" x2="297.3" y2="379.3" stroke="#111" stroke-width="1.1" stroke-linecap="butt"/>
<polygon points="276,370 281.46,373.75 282.46,371.46" fill="#111" stroke="#111" stroke-width="0.3" stroke-linejoin="miter"/>
<text x="285.3" y="386.6" font-family="'Liberation Serif', serif" font-size="9.3" font-weight="bold" text-anchor="middle" fill="#111">4</text>
<line x1="170.86" y1="317.16" x2="153.5" y2="309.3" stroke="#111" stroke-width="1.1" stroke-linecap="butt"/>
<polygon points="175.6,319.3 170.19,315.48 169.16,317.76" fill="#111" stroke="#111" stroke-width="0.3" stroke-linejoin="miter"/>
<text x="162.8" y="326.6" font-family="'Liberation Serif', serif" font-size="9.3" font-weight="bold" text-anchor="middle" fill="#111">5</text>
<text x="146.2" y="347" font-family="'Liberation Serif', serif" font-size="9.3" font-weight="bold" text-anchor="middle" fill="#111">6</text>
<line x1="188.76" y1="384.1" x2="206.7" y2="392" stroke="#111" stroke-width="1.1" stroke-linecap="butt"/>
<polygon points="184,382 189.44,385.76 190.45,383.48" fill="#111" stroke="#111" stroke-width="0.3" stroke-linejoin="miter"/>
<text x="194" y="398.6" font-family="'Liberation Serif', serif" font-size="9.3" font-weight="bold" text-anchor="middle" fill="#111">7</text>
<line x1="429.28" y1="301.65" x2="445" y2="308.4" stroke="#111" stroke-width="1.1" stroke-linecap="butt"/>
<polygon points="424.5,299.6 429.98,303.31 430.97,301.02" fill="#111" stroke="#111" stroke-width="0.3" stroke-linejoin="miter"/>
<text x="433.8" y="315.2" font-family="'Liberation Serif', serif" font-size="9.3" font-weight="bold" text-anchor="middle" fill="#111">8</text>
<line x1="537.49" y1="282.74" x2="554.8" y2="291" stroke="#111" stroke-width="1.1" stroke-linecap="butt"/>
<polygon points="532.8,280.5 538.13,284.43 539.2,282.17" fill="#111" stroke="#111" stroke-width="0.3" stroke-linejoin="miter"/>
<text x="542.9" y="296.6" font-family="'Liberation Serif', serif" font-size="9.3" font-weight="bold" text-anchor="middle" fill="#111">9</text>
<line x1="565.78" y1="343.16" x2="581.4" y2="350.7" stroke="#111" stroke-width="1.1" stroke-linecap="butt"/>
<polygon points="561.1,340.9 566.41,344.85 567.5,342.6" fill="#111" stroke="#111" stroke-width="0.3" stroke-linejoin="miter"/>
<text x="569.8" y="356.6" font-family="'Liberation Serif', serif" font-size="9.3" font-weight="bold" text-anchor="middle" fill="#111">10</text>
<line x1="284.01" y1="179.3" x2="300.9" y2="171.4" stroke="#111" stroke-width="1.1" stroke-linecap="butt"/>
<polygon points="279.3,181.5 285.72,179.88 284.66,177.61" fill="#111" stroke="#111" stroke-width="0.3" stroke-linejoin="miter"/>
<text x="295.9" y="185.4" font-family="'Liberation Serif', serif" font-size="9.3" font-weight="bold" text-anchor="middle" fill="#111">11</text>
</svg></body></html>
